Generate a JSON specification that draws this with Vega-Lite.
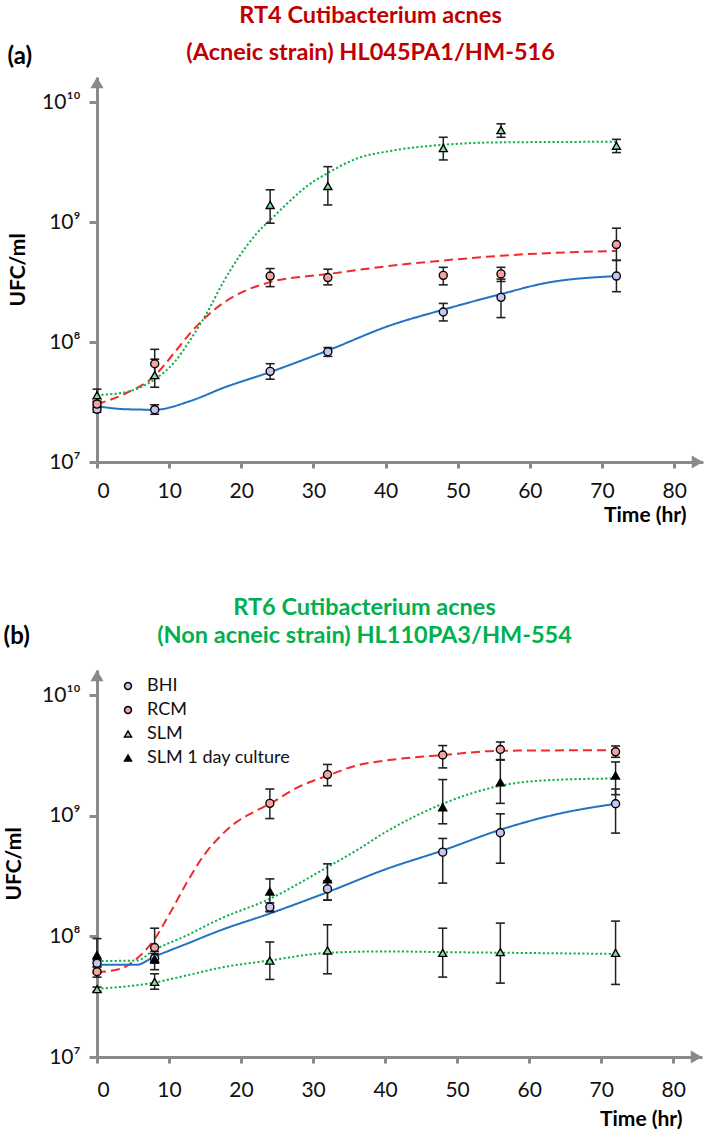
{
  "$schema": "https://vega.github.io/schema/vega-lite/v6.json",
  "padding": {"left": 3, "top": 3, "right": 0, "bottom": 0},
  "background": "white",
  "config": {
    "font": "Lato",
    "view": {"stroke": null},
    "axis": {"grid": false, "domainColor": "#8a8a8a", "domainWidth": 3, "tickColor": "#8a8a8a", "tickWidth": 3, "labelFont": "Lato", "labelFontSize": 21, "labelColor": "#111", "titleFont": "Lato", "titleFontSize": 21, "titleFontWeight": "bold", "titleColor": "#000"},
    "concat": {"spacing": 70}
  },
  "datasets": {
    "curvesA": [
      {"series": "BHI", "t": 0, "v": 2.92e7}, {"series": "BHI", "t": 4, "v": 2.754e7}, {"series": "BHI", "t": 8, "v": 2.729e7}, {"series": "BHI", "t": 13, "v": 3.236e7}, {"series": "BHI", "t": 17.6, "v": 4.169e7}, {"series": "BHI", "t": 24, "v": 5.623e7}, {"series": "BHI", "t": 32, "v": 8.511e7}, {"series": "BHI", "t": 40.7, "v": 1.38e8}, {"series": "BHI", "t": 48, "v": 1.862e8}, {"series": "BHI", "t": 56, "v": 2.512e8}, {"series": "BHI", "t": 62, "v": 3.09e8}, {"series": "BHI", "t": 72, "v": 3.548e8},
      {"series": "RCM", "t": 0, "v": 3.041e7}, {"series": "RCM", "t": 3.8, "v": 3.69e7}, {"series": "RCM", "t": 8, "v": 5.248e7}, {"series": "RCM", "t": 10.7, "v": 8.128e7}, {"series": "RCM", "t": 13, "v": 1.202e8}, {"series": "RCM", "t": 15.3, "v": 1.66e8}, {"series": "RCM", "t": 17.6, "v": 2.138e8}, {"series": "RCM", "t": 19.9, "v": 2.57e8}, {"series": "RCM", "t": 24, "v": 3.162e8}, {"series": "RCM", "t": 32, "v": 3.69e8}, {"series": "RCM", "t": 40.7, "v": 4.325e8}, {"series": "RCM", "t": 48, "v": 4.786e8}, {"series": "RCM", "t": 56, "v": 5.248e8}, {"series": "RCM", "t": 72, "v": 5.754e8},
      {"series": "SLM", "t": 0, "v": 3.614e7}, {"series": "SLM", "t": 3.8, "v": 3.802e7}, {"series": "SLM", "t": 8, "v": 4.898e7}, {"series": "SLM", "t": 10.7, "v": 6.761e7}, {"series": "SLM", "t": 13, "v": 1.059e8}, {"series": "SLM", "t": 15.3, "v": 1.778e8}, {"series": "SLM", "t": 17.6, "v": 3.236e8}, {"series": "SLM", "t": 19.9, "v": 5.37e8}, {"series": "SLM", "t": 22.2, "v": 8.128e8}, {"series": "SLM", "t": 24, "v": 1.04e9}, {"series": "SLM", "t": 26.8, "v": 1.514e9}, {"series": "SLM", "t": 29.1, "v": 1.995e9}, {"series": "SLM", "t": 32, "v": 2.57e9}, {"series": "SLM", "t": 36, "v": 3.388e9}, {"series": "SLM", "t": 40.7, "v": 3.926e9}, {"series": "SLM", "t": 48, "v": 4.416e9}, {"series": "SLM", "t": 56, "v": 4.624e9}, {"series": "SLM", "t": 72, "v": 4.677e9}
    ],
    "pointsA": [
      {"series": "BHI", "t": 0, "v": 2.75e7, "lo": 2.6e7, "hi": 2.95e7},
      {"series": "BHI", "t": 8, "v": 2.73e7, "lo": 2.5e7, "hi": 3.0e7},
      {"series": "BHI", "t": 24, "v": 5.7e7, "lo": 4.9e7, "hi": 6.6e7},
      {"series": "BHI", "t": 32, "v": 8.3e7, "lo": 7.6e7, "hi": 9.0e7},
      {"series": "BHI", "t": 48, "v": 1.78e8, "lo": 1.5e8, "hi": 2.1e8},
      {"series": "BHI", "t": 56, "v": 2.36e8, "lo": 1.6e8, "hi": 3.35e8},
      {"series": "BHI", "t": 72, "v": 3.55e8, "lo": 2.63e8, "hi": 4.8e8},
      {"series": "RCM", "t": 0, "v": 3.04e7, "lo": 2.85e7, "hi": 3.2e7},
      {"series": "RCM", "t": 8, "v": 6.6e7, "lo": 5.0e7, "hi": 8.7e7},
      {"series": "RCM", "t": 24, "v": 3.55e8, "lo": 2.9e8, "hi": 4.1e8},
      {"series": "RCM", "t": 32, "v": 3.45e8, "lo": 3.0e8, "hi": 4.05e8},
      {"series": "RCM", "t": 48, "v": 3.6e8, "lo": 3.0e8, "hi": 4.2e8},
      {"series": "RCM", "t": 56, "v": 3.7e8, "lo": 3.2e8, "hi": 4.2e8},
      {"series": "RCM", "t": 72, "v": 6.5e8, "lo": 4.8e8, "hi": 8.9e8},
      {"series": "SLM", "t": 0, "v": 3.6e7, "lo": 3.2e7, "hi": 4.05e7},
      {"series": "SLM", "t": 8, "v": 5.3e7, "lo": 4.2e7, "hi": 7.2e7},
      {"series": "SLM", "t": 24, "v": 1.39e9, "lo": 9.8e8, "hi": 1.86e9},
      {"series": "SLM", "t": 32, "v": 2.0e9, "lo": 1.39e9, "hi": 2.9e9},
      {"series": "SLM", "t": 48, "v": 4.14e9, "lo": 3.3e9, "hi": 5.1e9},
      {"series": "SLM", "t": 56, "v": 5.85e9, "lo": 5.1e9, "hi": 6.6e9},
      {"series": "SLM", "t": 72, "v": 4.33e9, "lo": 3.8e9, "hi": 4.9e9}
    ],
    "curvesB": [
      {"series": "RCM", "t": 0, "v": 5.058e7}, {"series": "RCM", "t": 3.2, "v": 5.37e7}, {"series": "RCM", "t": 5.5, "v": 6.531e7}, {"series": "RCM", "t": 7.85, "v": 9.268e7}, {"series": "RCM", "t": 10.2, "v": 1.585e8}, {"series": "RCM", "t": 12.5, "v": 2.818e8}, {"series": "RCM", "t": 14.8, "v": 4.677e8}, {"series": "RCM", "t": 17.1, "v": 6.761e8}, {"series": "RCM", "t": 19.4, "v": 8.913e8}, {"series": "RCM", "t": 21.7, "v": 1.072e9}, {"series": "RCM", "t": 24, "v": 1.259e9}, {"series": "RCM", "t": 28, "v": 1.738e9}, {"series": "RCM", "t": 32, "v": 2.158e9}, {"series": "RCM", "t": 36, "v": 2.612e9}, {"series": "RCM", "t": 40.2, "v": 2.884e9}, {"series": "RCM", "t": 48, "v": 3.199e9}, {"series": "RCM", "t": 56, "v": 3.467e9}, {"series": "RCM", "t": 72, "v": 3.508e9},
      {"series": "SLM 1 day culture", "t": 0, "v": 6.252e7}, {"series": "SLM 1 day culture", "t": 5.5, "v": 6.31e7}, {"series": "SLM 1 day culture", "t": 7.85, "v": 7.656e7}, {"series": "SLM 1 day culture", "t": 12.5, "v": 1.023e8}, {"series": "SLM 1 day culture", "t": 17.1, "v": 1.4e8}, {"series": "SLM 1 day culture", "t": 23.9, "v": 2.042e8}, {"series": "SLM 1 day culture", "t": 32, "v": 3.758e8}, {"series": "SLM 1 day culture", "t": 36, "v": 5.164e8}, {"series": "SLM 1 day culture", "t": 40.2, "v": 7.413e8}, {"series": "SLM 1 day culture", "t": 48, "v": 1.259e9}, {"series": "SLM 1 day culture", "t": 56, "v": 1.778e9}, {"series": "SLM 1 day culture", "t": 64, "v": 1.995e9}, {"series": "SLM 1 day culture", "t": 72, "v": 2.042e9},
      {"series": "BHI", "t": 0, "v": 5.821e7}, {"series": "BHI", "t": 5.5, "v": 5.821e7}, {"series": "BHI", "t": 7.85, "v": 6.745e7}, {"series": "BHI", "t": 12.5, "v": 8.71e7}, {"series": "BHI", "t": 17.1, "v": 1.122e8}, {"series": "BHI", "t": 23.9, "v": 1.542e8}, {"series": "BHI", "t": 32, "v": 2.328e8}, {"series": "BHI", "t": 40.2, "v": 3.631e8}, {"series": "BHI", "t": 48, "v": 5.164e8}, {"series": "BHI", "t": 56, "v": 7.674e8}, {"series": "BHI", "t": 64, "v": 1.038e9}, {"series": "BHI", "t": 72, "v": 1.259e9},
      {"series": "SLM", "t": 0, "v": 3.681e7}, {"series": "SLM", "t": 7.85, "v": 4.13e7}, {"series": "SLM", "t": 12.5, "v": 4.753e7}, {"series": "SLM", "t": 17.1, "v": 5.495e7}, {"series": "SLM", "t": 23.9, "v": 6.31e7}, {"series": "SLM", "t": 32, "v": 7.311e7}, {"series": "SLM", "t": 40.2, "v": 7.516e7}, {"series": "SLM", "t": 48, "v": 7.413e7}, {"series": "SLM", "t": 56, "v": 7.328e7}, {"series": "SLM", "t": 72, "v": 7.161e7}
    ],
    "pointsB": [
      {"series": "BHI", "t": 0, "v": 6.0e7, "lo": 5.6e7, "hi": 6.4e7},
      {"series": "BHI", "t": 8, "v": 6.6e7, "lo": 6.0e7, "hi": 7.2e7},
      {"series": "BHI", "t": 24, "v": 1.75e8, "lo": 1.62e8, "hi": 1.9e8},
      {"series": "BHI", "t": 32, "v": 2.48e8, "lo": 2.0e8, "hi": 2.9e8},
      {"series": "BHI", "t": 48, "v": 5.0e8, "lo": 2.77e8, "hi": 6.5e8},
      {"series": "BHI", "t": 56, "v": 7.25e8, "lo": 4.05e8, "hi": 1.04e9},
      {"series": "BHI", "t": 72, "v": 1.26e9, "lo": 7.2e8, "hi": 1.67e9},
      {"series": "RCM", "t": 0, "v": 5.1e7, "lo": 4.6e7, "hi": 5.6e7},
      {"series": "RCM", "t": 8, "v": 8.1e7, "lo": 6.2e7, "hi": 1.17e8},
      {"series": "RCM", "t": 24, "v": 1.27e9, "lo": 9.5e8, "hi": 1.67e9},
      {"series": "RCM", "t": 32, "v": 2.2e9, "lo": 1.78e9, "hi": 2.67e9},
      {"series": "RCM", "t": 48, "v": 3.2e9, "lo": 2.5e9, "hi": 3.83e9},
      {"series": "RCM", "t": 56, "v": 3.55e9, "lo": 2.93e9, "hi": 4.1e9},
      {"series": "RCM", "t": 72, "v": 3.4e9, "lo": 3.06e9, "hi": 3.8e9},
      {"series": "SLM", "t": 0, "v": 3.65e7, "lo": 3.5e7, "hi": 3.8e7},
      {"series": "SLM", "t": 8, "v": 4.2e7, "lo": 3.65e7, "hi": 4.9e7},
      {"series": "SLM", "t": 24, "v": 6.3e7, "lo": 4.4e7, "hi": 9.0e7},
      {"series": "SLM", "t": 32, "v": 7.65e7, "lo": 4.9e7, "hi": 1.25e8},
      {"series": "SLM", "t": 48, "v": 7.3e7, "lo": 4.6e7, "hi": 1.17e8},
      {"series": "SLM", "t": 56, "v": 7.4e7, "lo": 4.1e7, "hi": 1.29e8},
      {"series": "SLM", "t": 72, "v": 7.3e7, "lo": 4.0e7, "hi": 1.34e8},
      {"series": "SLM 1 day culture", "t": 0, "v": 7.0e7, "lo": 5.0e7, "hi": 9.6e7},
      {"series": "SLM 1 day culture", "t": 8, "v": 6.5e7, "lo": 5.3e7, "hi": 7.5e7},
      {"series": "SLM 1 day culture", "t": 24, "v": 2.36e8, "lo": 1.6e8, "hi": 3.0e8},
      {"series": "SLM 1 day culture", "t": 32, "v": 2.97e8, "lo": 2.0e8, "hi": 4.0e8},
      {"series": "SLM 1 day culture", "t": 48, "v": 1.18e9, "lo": 8.6e8, "hi": 2.0e9},
      {"series": "SLM 1 day culture", "t": 56, "v": 1.9e9, "lo": 1.27e9, "hi": 2.9e9},
      {"series": "SLM 1 day culture", "t": 72, "v": 2.16e9, "lo": 1.5e9, "hi": 2.8e9}
    ]
  },
  "resolve": {"scale": {"color": "independent", "strokeDash": "independent", "shape": "independent", "fill": "independent"}, "legend": {"shape": "independent", "fill": "independent"}},
  "vconcat": [
    {
      "width": 606,
      "height": 385,
      "title": {"text": "(a)", "anchor": "start", "frame": "bounds", "fontSize": 24, "fontWeight": "bold", "color": "#000", "font": "Lato", "dy": 70},
      "resolve": {"axis": {"x": "independent"}},
      "layer": [
        {
          "layer": [
            {
              "data": {"name": "curvesA"},
              "mark": {"type": "line", "interpolate": "monotone", "strokeWidth": 2},
              "encoding": {
                "x": {"field": "t", "type": "quantitative", "scale": {"domain": [0, 84], "nice": false}, "axis": {"orient": "bottom", "values": [0, 10, 20, 30, 40, 50, 60, 70, 80], "tickSize": 6, "labelPadding": 12, "title": "Time (hr)", "titleAlign": "right", "titleBaseline": "middle", "titleX": 589, "titleY": 53}},
                "y": {"field": "v", "type": "quantitative", "scale": {"type": "log", "domain": [1e7, 1.622e10], "nice": false}, "axis": {"values": [1e7, 1e8, 1e9, 1e10], "tickSize": 8, "labelPadding": 9, "labelExpr": "datum.value < 5e7 ? '10⁷' : datum.value < 5e8 ? '10⁸' : datum.value < 5e9 ? '10⁹' : '10¹⁰'", "title": "UFC/ml", "titlePadding": 13}},
                "color": {"field": "series", "type": "nominal", "scale": {"domain": ["RCM", "BHI", "SLM", "SLM 1 day culture"], "range": ["#F02A2A", "#2372C4", "#12B050", "#12B050"]}, "legend": null},
                "strokeDash": {"field": "series", "type": "nominal", "scale": {"domain": ["RCM", "BHI", "SLM", "SLM 1 day culture"], "range": [[9, 5], [1, 0], [2.2, 2.2], [2.2, 2.2]]}, "legend": null}
              }
            },
            {
              "data": {"name": "pointsA"},
              "mark": {"type": "rule", "color": "#222", "strokeWidth": 1.5},
              "encoding": {"x": {"field": "t", "type": "quantitative"}, "y": {"field": "lo", "type": "quantitative"}, "y2": {"field": "hi"}}
            },
            {
              "data": {"name": "pointsA"},
              "mark": {"type": "tick", "orient": "horizontal", "color": "#222", "size": 9, "thickness": 1.6, "opacity": 1},
              "encoding": {"x": {"field": "t", "type": "quantitative"}, "y": {"field": "lo", "type": "quantitative"}}
            },
            {
              "data": {"name": "pointsA"},
              "mark": {"type": "tick", "orient": "horizontal", "color": "#222", "size": 9, "thickness": 1.6, "opacity": 1},
              "encoding": {"x": {"field": "t", "type": "quantitative"}, "y": {"field": "hi", "type": "quantitative"}}
            },
            {
              "data": {"name": "pointsA"},
              "mark": {"type": "point", "filled": true, "stroke": "#000", "strokeWidth": 1.4, "size": 64, "opacity": 1},
              "encoding": {
                "x": {"field": "t", "type": "quantitative"},
                "y": {"field": "v", "type": "quantitative"},
                "shape": {"field": "series", "type": "nominal", "scale": {"domain": ["BHI", "RCM", "SLM", "SLM 1 day culture"], "range": ["circle", "circle", "triangle-up", "triangle-up"]}, "legend": null},
                "fill": {"field": "series", "type": "nominal", "scale": {"domain": ["BHI", "RCM", "SLM", "SLM 1 day culture"], "range": ["#C6C6F2", "#F4A3A3", "#8FDBA2", "#000000"]}, "legend": null}
              }
            },
            {
              "data": {"values": [{"t": 0, "v": 1.455e10}]},
              "mark": {"type": "point", "shape": "triangle-up", "filled": true, "color": "#8a8a8a", "size": 170, "opacity": 1},
              "encoding": {"x": {"field": "t", "type": "quantitative"}, "y": {"field": "v", "type": "quantitative"}}
            },
            {
              "data": {"values": [{"t": 83.22, "v": 1e7}]},
              "mark": {"type": "point", "shape": "triangle-right", "filled": true, "color": "#8a8a8a", "size": 170, "opacity": 1},
              "encoding": {"x": {"field": "t", "type": "quantitative"}, "y": {"field": "v", "type": "quantitative"}}
            }
          ]
        },
        {
          "data": {"values": [{}]},
          "mark": {"type": "rule", "opacity": 0, "strokeWidth": 0},
          "encoding": {
            "x": {"datum": 0, "type": "quantitative", "axis": {"orient": "top", "domain": false, "ticks": false, "labels": false, "grid": false, "title": ["RT4 Cutibacterium acnes", "(Acneic strain) HL045PA1/HM-516"], "titleFont": "Lato", "titleFontSize": 23.5, "titleFontWeight": "bold", "titleColor": "#C00000", "titleLineHeight": 37, "titleAlign": "center", "titleBaseline": "middle", "titleX": 273, "titleY": -62}}
          }
        }
      ]
    },
    {
      "width": 605,
      "height": 387,
      "title": {"text": "(b)", "anchor": "start", "frame": "bounds", "fontSize": 24, "fontWeight": "bold", "color": "#000", "font": "Lato", "dy": 58},
      "resolve": {"axis": {"x": "independent"}},
      "layer": [
        {
          "layer": [
            {
              "data": {"name": "curvesB"},
              "mark": {"type": "line", "interpolate": "monotone", "strokeWidth": 2},
              "encoding": {
                "x": {"field": "t", "type": "quantitative", "scale": {"domain": [0, 84], "nice": false}, "axis": {"orient": "bottom", "values": [0, 10, 20, 30, 40, 50, 60, 70, 80], "tickSize": 6, "labelPadding": 16, "title": "Time (hr)", "titleAlign": "right", "titleBaseline": "middle", "titleX": 585, "titleY": 62}},
                "y": {"field": "v", "type": "quantitative", "scale": {"type": "log", "domain": [1e7, 1.622e10], "nice": false}, "axis": {"values": [1e7, 1e8, 1e9, 1e10], "tickSize": 8, "labelPadding": 9, "labelExpr": "datum.value < 5e7 ? '10⁷' : datum.value < 5e8 ? '10⁸' : datum.value < 5e9 ? '10⁹' : '10¹⁰'", "title": "UFC/ml", "titlePadding": 17}},
                "color": {"field": "series", "type": "nominal", "scale": {"domain": ["RCM", "BHI", "SLM", "SLM 1 day culture"], "range": ["#F02A2A", "#2372C4", "#12B050", "#12B050"]}, "legend": null},
                "strokeDash": {"field": "series", "type": "nominal", "scale": {"domain": ["RCM", "BHI", "SLM", "SLM 1 day culture"], "range": [[9, 5], [1, 0], [2.2, 2.2], [2.2, 2.2]]}, "legend": null}
              }
            },
            {
              "data": {"name": "pointsB"},
              "mark": {"type": "rule", "color": "#222", "strokeWidth": 1.5},
              "encoding": {"x": {"field": "t", "type": "quantitative"}, "y": {"field": "lo", "type": "quantitative"}, "y2": {"field": "hi"}}
            },
            {
              "data": {"name": "pointsB"},
              "mark": {"type": "tick", "orient": "horizontal", "color": "#222", "size": 9, "thickness": 1.6, "opacity": 1},
              "encoding": {"x": {"field": "t", "type": "quantitative"}, "y": {"field": "lo", "type": "quantitative"}}
            },
            {
              "data": {"name": "pointsB"},
              "mark": {"type": "tick", "orient": "horizontal", "color": "#222", "size": 9, "thickness": 1.6, "opacity": 1},
              "encoding": {"x": {"field": "t", "type": "quantitative"}, "y": {"field": "hi", "type": "quantitative"}}
            },
            {
              "data": {"name": "pointsB"},
              "mark": {"type": "point", "filled": true, "stroke": "#000", "strokeWidth": 1.4, "size": 64, "opacity": 1},
              "encoding": {
                "x": {"field": "t", "type": "quantitative"},
                "y": {"field": "v", "type": "quantitative"},
                "shape": {"field": "series", "type": "nominal", "scale": {"domain": ["BHI", "RCM", "SLM", "SLM 1 day culture"], "range": ["circle", "circle", "triangle-up", "triangle-up"]}, "legend": {"title": null, "orient": "none", "legendX": 22, "legendY": 7, "labelFont": "Lato", "labelFontSize": 18, "labelColor": "#111", "symbolSize": 48, "rowPadding": 6, "labelOffset": 10, "encode": {"symbols": {"update": {"stroke": {"value": "#000"}, "strokeWidth": {"value": 1.2}}}}}},
                "fill": {"field": "series", "type": "nominal", "scale": {"domain": ["BHI", "RCM", "SLM", "SLM 1 day culture"], "range": ["#C6C6F2", "#F4A3A3", "#8FDBA2", "#000000"]}, "legend": {"title": null, "orient": "none", "legendX": 22, "legendY": 7, "labelFont": "Lato", "labelFontSize": 18, "labelColor": "#111", "symbolSize": 48, "rowPadding": 6, "labelOffset": 10, "encode": {"symbols": {"update": {"stroke": {"value": "#000"}, "strokeWidth": {"value": 1.2}}}}}}
              }
            },
            {
              "data": {"values": [{"t": 0, "v": 1.455e10}]},
              "mark": {"type": "point", "shape": "triangle-up", "filled": true, "color": "#8a8a8a", "size": 170, "opacity": 1},
              "encoding": {"x": {"field": "t", "type": "quantitative"}, "y": {"field": "v", "type": "quantitative"}}
            },
            {
              "data": {"values": [{"t": 83.22, "v": 1e7}]},
              "mark": {"type": "point", "shape": "triangle-right", "filled": true, "color": "#8a8a8a", "size": 170, "opacity": 1},
              "encoding": {"x": {"field": "t", "type": "quantitative"}, "y": {"field": "v", "type": "quantitative"}}
            }
          ]
        },
        {
          "data": {"values": [{}]},
          "mark": {"type": "rule", "opacity": 0, "strokeWidth": 0},
          "encoding": {
            "x": {"datum": 0, "type": "quantitative", "axis": {"orient": "top", "domain": false, "ticks": false, "labels": false, "grid": false, "title": ["RT6 Cutibacterium acnes", "(Non acneic strain) HL110PA3/HM-554"], "titleFont": "Lato", "titleFontSize": 23.5, "titleFontWeight": "bold", "titleColor": "#00B050", "titleLineHeight": 28, "titleAlign": "center", "titleBaseline": "middle", "titleX": 267, "titleY": -63}}
          }
        }
      ]
    }
  ]
}
